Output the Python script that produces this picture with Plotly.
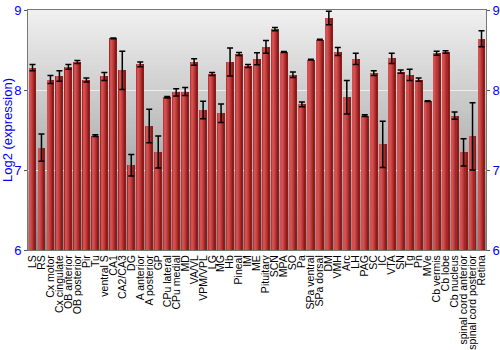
import plotly.graph_objects as go

categories = ["LS", "RS", "Cx motor", "Cx cingulate", "OB anterior", "OB posterior", "Pir", "Tu",
              "ventral S", "CA1", "CA2/CA3", "DG", "A anterior", "A posterior", "GP", "CPu lateral",
              "CPu medial", "MD", "VA/VL", "VPM/VPL", "LG", "MG", "Hb", "Pineal", "IM", "ME",
              "Pituitary", "SCN", "MPA", "SO", "Pa", "SPa ventral", "SPa dorsal", "DM", "VMH", "Arc",
              "LH", "PAG", "SC", "IC", "VTA", "SN", "Tg", "Pn", "MVe", "Cb vermis", "Cb lobe",
              "Cb nucleus", "spinal cord anterior", "spinal cord posterior", "Retina"]
values = [8.28, 7.28, 8.13, 8.175, 8.29, 8.35, 8.125, 7.43,
          8.17, 8.645, 8.245, 7.06, 8.32, 7.55, 7.225, 7.91,
          7.97, 7.98, 8.35, 7.75, 8.20, 7.71, 8.35, 8.45, 8.30, 8.39,
          8.54, 8.76, 8.475, 8.19, 7.82, 8.38, 8.63, 8.90, 8.48, 7.91,
          8.39, 7.68, 8.21, 7.32, 8.395, 8.23, 8.19, 8.13, 7.86, 8.46, 8.475,
          7.68, 7.22, 7.42, 8.64]
errors = [0.04, 0.17, 0.05, 0.065, 0.03, 0.02, 0.025, 0.01,
          0.05, 0.005, 0.24, 0.135, 0.03, 0.21, 0.2, 0.01,
          0.045, 0.05, 0.04, 0.11, 0.02, 0.115, 0.175, 0.02, 0.02, 0.075,
          0.08, 0.02, 0.005, 0.035, 0.03, 0.005, 0.005, 0.085, 0.05, 0.21,
          0.07, 0.01, 0.03, 0.29, 0.065, 0.02, 0.07, 0.02, 0.005, 0.025, 0.015,
          0.045, 0.17, 0.42, 0.10]
y_ticks = [6, 7, 8, 9]

FONT = "Liberation Sans, Arial, sans-serif"
fig = go.Figure()

# layered bars to imitate the cylindrical gradient
layers = [
    (-0.44, 0.88, "#8a1c1c"),
    (-0.44, 0.66, "#a42828"),
    (-0.42, 0.52, "#b83636"),
    (-0.38, 0.36, "#c84444"),
    (-0.33, 0.20, "#d25050"),
]
for off, w, col in layers:
    fig.add_trace(go.Bar(x=categories, y=values, offset=off, width=w,
                         marker=dict(color=col, line=dict(width=0)),
                         showlegend=False, hoverinfo="skip"))

fig.add_trace(go.Scatter(x=categories, y=values, mode="markers",
                         marker=dict(size=1, opacity=0),
                         error_y=dict(type="data", array=errors, color="black",
                                      thickness=1.5, width=3),
                         showlegend=False))
fig.add_trace(go.Scatter(x=[categories[0]], y=[6], yaxis="y2", mode="markers",
                         marker=dict(opacity=0), showlegend=False, hoverinfo="skip"))

# gradient background
n = 60
for i in range(n):
    t = i / (n - 1)
    c = int(round(0xf0 + (0x8a - 0xf0) * t))
    fig.add_shape(type="rect", xref="paper", yref="paper",
                  x0=0, x1=1, y0=1 - (i + 1) / n, y1=1 - i / n + 0.001,
                  fillcolor=f"rgb({c},{c},{c})", line=dict(width=0), layer="below")

fig.update_layout(
    width=500, height=350,
    margin=dict(l=28, r=14, t=10, b=100, autoexpand=False),
    paper_bgcolor="white", plot_bgcolor="white",
    barmode="overlay", bargap=0,
    font=dict(family=FONT),
    xaxis=dict(type="category", range=[-0.5, len(categories) - 0.5],
               tickmode="array", tickvals=categories, ticktext=categories,
               tickangle=-90, tickfont=dict(size=10.5, color="black", family=FONT),
               ticks="", showline=True, mirror=True, linecolor="#777777",
               showgrid=False, automargin=False),
    yaxis=dict(range=[6, 9], tickvals=y_ticks, tickfont=dict(size=13, color="blue"),
               ticks="outside", ticklen=3, tickcolor="#555555",
               showline=True, linecolor="#777777", linewidth=1,
               gridcolor="#eeeeee", gridwidth=1, zeroline=False,
               title=dict(text="Log2 (expression)", font=dict(size=13, color="blue"), standoff=3),
               automargin=False),
    yaxis2=dict(range=[6, 9], tickvals=y_ticks, overlaying="y", side="right",
                tickfont=dict(size=13, color="blue"), ticks="outside", ticklen=3,
                tickcolor="#555555", showline=True, linecolor="#777777",
                showgrid=False, zeroline=False, automargin=False),
)

fig.write_html("out.html")
